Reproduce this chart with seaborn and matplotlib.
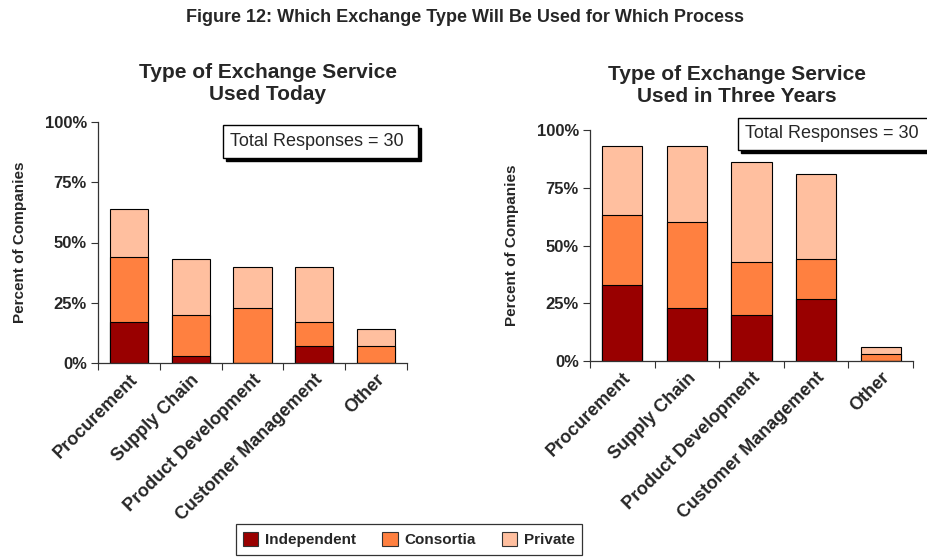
import matplotlib
matplotlib.use("Agg")
import matplotlib.pyplot as plt
from matplotlib.patches import Rectangle
import numpy as np
import seaborn as sns

# Processes on the x axis
categories = ["Procurement", "Supply Chain", "Product Development",
              "Customer Management", "Other"]

# Share of companies (%) using each exchange type today
today_independent = [17, 3, 0, 7, 0]
today_consortia = [27, 17, 23, 10, 7]
today_private = [20, 23, 17, 23, 7]

# Share of companies (%) expected to use each exchange type in three years
future_independent = [33, 23, 20, 27, 0]
future_consortia = [30, 37, 23, 17, 3]
future_private = [30, 33, 43, 37, 3]

series_names = ["Independent", "Consortia", "Private"]
series_colors = ["#990000", "#FF8040", "#FFBF9F"]
y_ticks = [0, 25, 50, 75, 100]
y_tick_labels = ["0%", "25%", "50%", "75%", "100%"]

sns.set_style("white")
plt.rcParams["font.family"] = ["Liberation Sans", "DejaVu Sans"]

W, H = 928, 560
fig = plt.figure(figsize=(W / 100, H / 100), dpi=100)


def px_rect(x0, y0, x1, y1):
    """Figure-fraction rectangle from pixel coordinates (origin top-left)."""
    return [x0 / W, 1 - y1 / H, (x1 - x0) / W, (y1 - y0) / H]


def stacked(ax, indep, cons, priv):
    layers = [np.array(indep), np.array(cons), np.array(priv)]
    cum = np.cumsum(layers, axis=0)
    # Draw from the tallest stack down so each segment shows its own colour
    for level in (2, 1, 0):
        sns.barplot(x=categories, y=cum[level], color=series_colors[level],
                    width=0.62, edgecolor="black", linewidth=0.8,
                    saturation=1, ax=ax)
    ax.set_xlim(-0.5, len(categories) - 0.5)
    ax.set_ylim(0, 100)
    ax.set_yticks(y_ticks)
    ax.set_yticklabels(y_tick_labels, fontsize=12, fontweight="bold")
    ax.set_xticks(range(len(categories)))
    ax.set_xticklabels(categories, rotation=45, ha="right",
                       rotation_mode="anchor", fontsize=13,
                       fontweight="bold")
    ax.set_xticks(np.arange(-0.5, len(categories)), minor=True)
    ax.tick_params(axis="x", which="major", length=0, pad=6)
    ax.tick_params(axis="x", which="minor", length=5, width=0.8,
                   direction="out", color="#333333", bottom=True)
    ax.tick_params(axis="y", length=5, width=0.8, direction="out",
                   color="#333333", left=True, pad=3)
    ax.set_xlabel("")
    ax.set_ylabel("Percent of Companies", fontsize=11, fontweight="bold",
                  labelpad=13)
    for side in ("top", "right"):
        ax.spines[side].set_visible(False)
    for side in ("left", "bottom"):
        ax.spines[side].set_color("#333333")
        ax.spines[side].set_linewidth(0.9)


ax1 = fig.add_axes(px_rect(98, 122, 407, 363))
stacked(ax1, today_independent, today_consortia, today_private)
ax2 = fig.add_axes(px_rect(590, 130, 913, 361))
stacked(ax2, future_independent, future_consortia, future_private)

fig.text(465 / W, 1 - 17 / H,
         "Figure 12: Which Exchange Type Will Be Used for Which Process",
         ha="center", va="center", fontsize=13, fontweight="bold")
fig.text(268 / W, 1 - 84 / H, "Type of Exchange Service\nUsed Today",
         ha="center", va="center", fontsize=15, fontweight="bold",
         linespacing=1.2)
fig.text(737 / W, 1 - 85 / H, "Type of Exchange Service\nUsed in Three Years",
         ha="center", va="center", fontsize=15, fontweight="bold",
         linespacing=1.2)


def note_box(x0, y0, x1, y1, tx):
    shadow = Rectangle(((x0 + 3) / W, 1 - (y1 + 3) / H), (x1 - x0) / W,
                       (y1 - y0) / H, transform=fig.transFigure,
                       facecolor="black", edgecolor="black", zorder=5)
    box = Rectangle((x0 / W, 1 - y1 / H), (x1 - x0) / W, (y1 - y0) / H,
                    transform=fig.transFigure, facecolor="white",
                    edgecolor="black", linewidth=1, zorder=6)
    fig.patches.extend([shadow, box])
    fig.text(tx / W, 1 - (y0 + y1) / 2 / H, "Total Responses = 30",
             ha="left", va="center", fontsize=13, zorder=7)


note_box(223, 125, 418, 158, 230)
note_box(738, 118, 935, 150, 745)

handles = [Rectangle((0, 0), 1, 1, facecolor=c, edgecolor="#333333",
                     linewidth=0.8) for c in series_colors]
leg = fig.legend(handles, series_names, loc="center",
                 bbox_to_anchor=(409 / W, 1 - 539.5 / H), ncol=3,
                 frameon=True, fancybox=False, edgecolor="black",
                 prop={"weight": "bold", "size": 11},
                 handlelength=1.0, handleheight=1.0, columnspacing=1.7,
                 handletextpad=0.45, borderpad=0.5)
leg.get_frame().set_linewidth(0.9)

fig.savefig("out.png", dpi=100, facecolor="white")
